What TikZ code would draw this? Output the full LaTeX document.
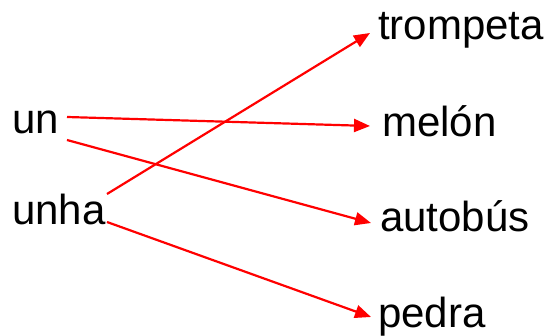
\documentclass[tikz,border=0pt]{standalone}
\usepackage{fontspec}
\setmainfont{Liberation Sans}
\usetikzlibrary{arrows.meta}
\begin{document}
\begin{tikzpicture}[x=1pt,y=-1pt,
  word/.style={anchor=base west,inner sep=0pt,font=\fontsize{42}{42}\selectfont},
  link/.style={draw=red,line width=2.2pt,-{Triangle[length=16pt,width=13pt]}}]
\useasboundingbox (0,0) rectangle (547,336);
\node[word] (un) at (12,134) {un};
\node[word] (unha) at (12,225) {unha};
\node[word] (trompeta) at (378,40) {trompeta};
\node[word] (melon) at (382,137) {melón};
\node[word] (autobus) at (380,232) {autobús};
\node[word] (pedra) at (378,328) {pedra};
\coordinate (a1) at (67,117);
\coordinate (a2) at (67,140);
\coordinate (b1) at (107,194);
\coordinate (b2) at (107,222);
\coordinate (t1) at (370,33);
\coordinate (m1) at (370,126);
\coordinate (au1) at (371,223);
\coordinate (p1) at (371,317);
\draw[link] (a1) -- (m1);
\draw[link] (a2) -- (au1);
\draw[link] (b1) -- (t1);
\draw[link] (b2) -- (p1);
\end{tikzpicture}
\end{document}
